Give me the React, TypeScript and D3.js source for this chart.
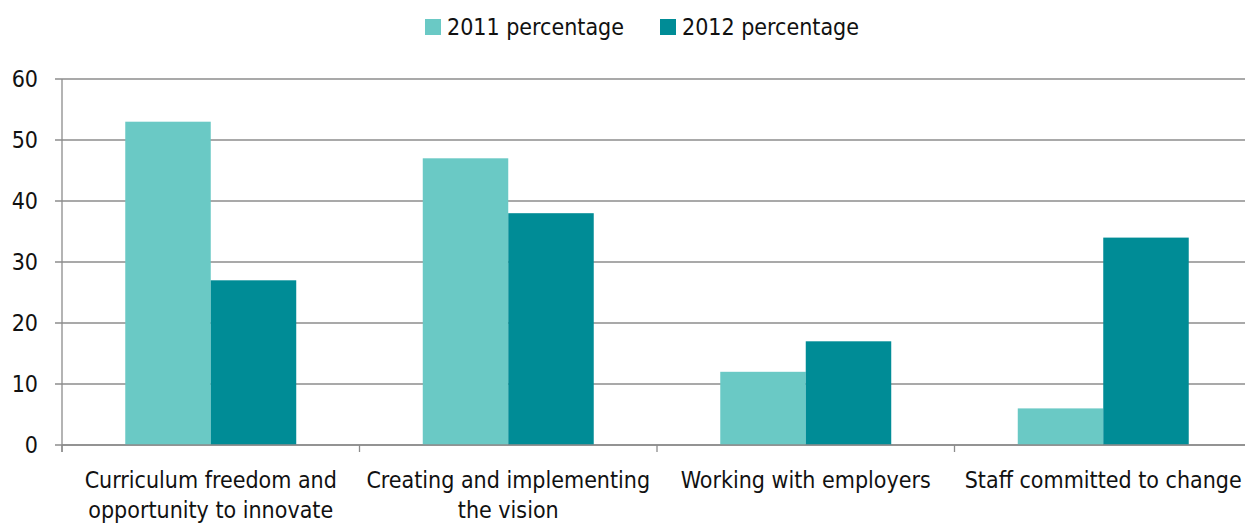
import React from "react";
import * as d3 from "d3";

const categories = [
  ["Curriculum freedom and", "opportunity to innovate"],
  ["Creating and implementing", "the vision"],
  ["Working with employers"],
  ["Staff committed to change"],
];
const seriesNames = ["2011 percentage", "2012 percentage"];
const values2011 = [53, 47, 12, 6];
const values2012 = [27, 38, 17, 34];
const yTicks = [0, 10, 20, 30, 40, 50, 60];
const colors = ["#6AC9C5", "#008C96"];

const W = 1245;
const H = 523;
const FONT = "'DejaVu Sans Condensed', 'DejaVu Sans', sans-serif";

export default function App() {
  const left = 62;
  const right = 1252;
  const top = 79;
  const bottom = 445;
  const idx = categories.map((_, i) => i);
  const x = d3.scaleBand<number>().domain(idx).range([left, right]).paddingInner(0).paddingOuter(0);
  const inner = d3.scaleBand<number>().domain([0, 1]).range([0, x.bandwidth()]).paddingOuter(0.74).paddingInner(0);
  const y = d3.scaleLinear().domain([0, 60]).range([bottom, top]);
  const series = [values2011, values2012];

  return (
    <svg width={W} height={H} style={{ position: "absolute", left: 0, top: 0 }} fontFamily={FONT} fontStretch="condensed">
      <rect width={W} height={H} fill="#fff" />
      {yTicks.map((t) => (
        <g key={t}>
          <line x1={55} x2={W} y1={y(t)} y2={y(t)} stroke="#8c8c8c" strokeWidth={1.3} />
          <text x={38} y={y(t) + 8} textAnchor="end" fontSize={23} fill="#111">{t}</text>
        </g>
      ))}
      {series.map((vals, s) =>
        vals.map((v, i) => (
          <rect
            key={`${s}-${i}`}
            x={(x(i) as number) + (inner(s) as number)}
            y={y(v)}
            width={inner.bandwidth()}
            height={y(0) - y(v)}
            fill={colors[s]}
          />
        ))
      )}
      <line x1={left} x2={left} y1={top} y2={452} stroke="#8c8c8c" strokeWidth={1.3} />
      <line x1={left} x2={W} y1={bottom} y2={bottom} stroke="#8c8c8c" strokeWidth={1.3} />
      {idx.map((i) => (
        <line key={i} x1={x(i)} x2={x(i)} y1={bottom} y2={452} stroke="#8c8c8c" strokeWidth={1.3} />
      ))}
      {categories.map((lines, i) => (
        <text key={i} textAnchor="middle" fontSize={23} fill="#111">
          {lines.map((l, j) => (
            <tspan key={j} x={(x(i) as number) + x.bandwidth() / 2} y={488 + j * 30}>{l}</tspan>
          ))}
        </text>
      ))}
      {seriesNames.map((n, s) => (
        <g key={n} transform={`translate(${s === 0 ? 425 : 660},19)`}>
          <rect width={16} height={16} fill={colors[s]} />
          <text x={22} y={16} fontSize={23} fill="#111">{n}</text>
        </g>
      ))}
    </svg>
  );
}
